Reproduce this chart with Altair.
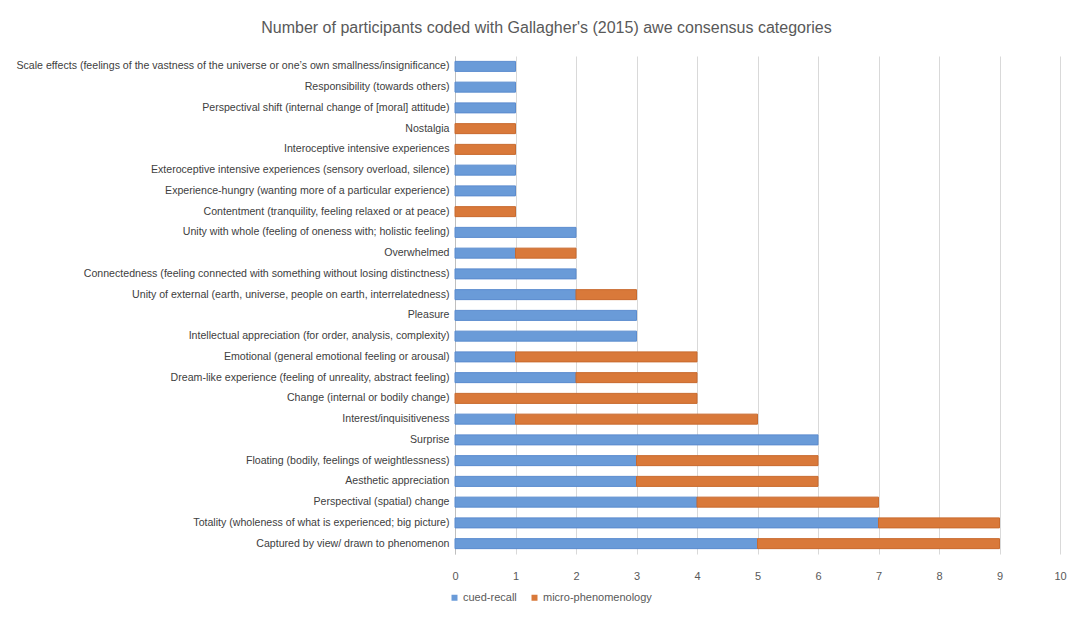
import altair as alt
import pandas as pd

categories = [
    "Scale effects (feelings of the vastness of the universe or one\u2019s own smallness/insignificance)",
    "Responsibility (towards others)",
    "Perspectival shift (internal change of [moral] attitude)",
    "Nostalgia",
    "Interoceptive intensive experiences",
    "Exteroceptive intensive experiences (sensory overload, silence)",
    "Experience-hungry  (wanting more of a particular experience)",
    "Contentment (tranquility, feeling relaxed or at peace)",
    "Unity with whole (feeling of oneness with; holistic feeling)",
    "Overwhelmed",
    "Connectedness (feeling connected with something without losing distinctness)",
    "Unity of external (earth,  universe, people on earth, interrelatedness)",
    "Pleasure",
    "Intellectual appreciation (for order, analysis, complexity)",
    "Emotional (general  emotional feeling or arousal)",
    "Dream-like experience  (feeling of unreality, abstract feeling)",
    "Change (internal or bodily change)",
    "Interest/inquisitiveness",
    "Surprise",
    "Floating (bodily, feelings of weightlessness)",
    "Aesthetic appreciation",
    "Perspectival (spatial) change",
    "Totality  (wholeness of what is experienced; big picture)",
    "Captured by view/ drawn  to phenomenon",
]
cued_recall = [1, 1, 1, 0, 0, 1, 1, 0, 2, 1, 2, 2, 3, 3, 1, 2, 0, 1, 6, 3, 3, 4, 7, 5]
micro_phenomenology = [0, 0, 0, 1, 1, 0, 0, 1, 0, 1, 0, 1, 0, 0, 3, 2, 4, 4, 0, 3, 3, 3, 2, 4]
series = ["cued-recall", "micro-phenomenology"]
colors = ["#6A9BD8", "#D9793A"]
strokes = ["#5A8BCE", "#C86A2E"]
x_ticks = list(range(11))

rows = []
for c, a, b in zip(categories, cued_recall, micro_phenomenology):
    rows.append({"category": c, "method": series[0], "value": a, "ord": 0})
    rows.append({"category": c, "method": series[1], "value": b, "ord": 1})
df = pd.DataFrame(rows)

font = "Liberation Sans"

chart = alt.Chart(df).mark_bar(size=10, strokeWidth=1).encode(
    x=alt.X("value:Q", stack="zero",
            scale=alt.Scale(domain=[0, 10], nice=False),
            axis=alt.Axis(title=None, values=x_ticks, grid=True,
                          gridColor="#D9D9D9", domain=False, ticks=False,
                          labelColor="#595959", labelFontSize=11, labelFont=font,
                          labelPadding=16, labelFlush=False)),
    y=alt.Y("category:N", sort=categories,
            axis=alt.Axis(title=None, ticks=False, domainColor="#BFBFBF",
                          labelColor="#404040", labelFontSize=10.6, labelFont=font,
                          labelLimit=0, labelPadding=6),
            scale=alt.Scale(paddingInner=0, paddingOuter=0)),
    color=alt.Color("method:N", scale=alt.Scale(domain=series, range=colors),
                    legend=alt.Legend(title=None, orient="none", legendX=-6, legendY=536,
                                      direction="horizontal", symbolType="square",
                                      symbolSize=36, labelFontSize=11, labelFont=font,
                                      labelColor="#595959", columnPadding=12,
                                      labelOffset=3, symbolStrokeWidth=0)),
    stroke=alt.Stroke("method:N", scale=alt.Scale(domain=series, range=strokes), legend=None),
    order=alt.Order("ord:Q"),
).transform_filter(
    alt.datum.value > 0
).properties(
    width=605,
    height=498,
    title=alt.TitleParams(
        "Number of participants coded with Gallagher's (2015) awe consensus  categories",
        fontSize=16, font=font, fontWeight="normal", color="#595959",
        anchor="middle", dx=-211, offset=20,
    ),
    autosize=alt.AutoSizeParams(type="none"),
    padding={"left": 447, "top": 48, "right": 16, "bottom": 60},
).configure(background="white").configure_view(stroke=None)

chart.save("out.html", embed_options={"renderer": "svg", "actions": False})
